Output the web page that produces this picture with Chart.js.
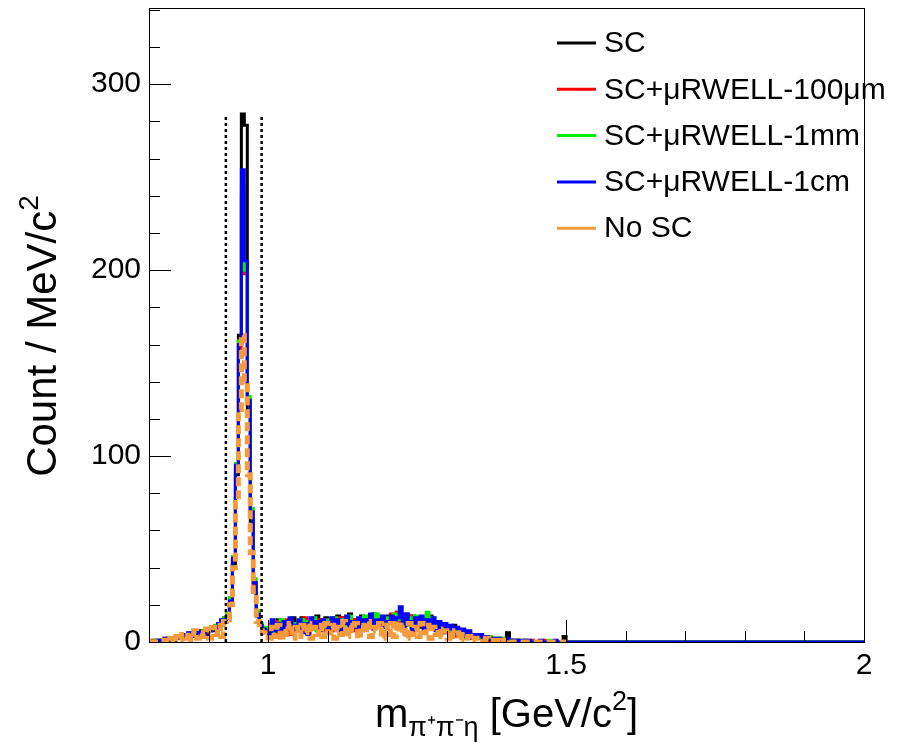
<!DOCTYPE html>
<html>
<head>
<meta charset="utf-8">
<title>m(pi+ pi- eta)</title>
<script src="https://cdn.jsdelivr.net/npm/chart.js@4/dist/chart.umd.min.js"></script>
<style>
  body { margin: 0; background: #fff; }
  #box { width: 914px; height: 743px; }
</style>
</head>
<body>
<div id="box"><canvas id="myChart" width="914" height="743"></canvas></div>
<script>
// histogram: 5 MeV bins starting at 0.800 GeV (bin low edges), up to 1.500 GeV
const binStart = 0.8;
const binWidth = 0.005;
const histEnd = 2.0;

const seriesNames = ['SC', 'SC+\u03BCRWELL-100\u03BCm', 'SC+\u03BCRWELL-1mm', 'SC+\u03BCRWELL-1cm', 'No SC'];

const countsSC = [
  0,0,1,0,1,1,2,1,1,2,
  3,2,4,3,5,4,3,6,5,4,
  7,6,8,9,11,13,15,22,42,90,
  165,284,278,125,65,30,14,9,6,7,
  6,10,4,12,7,9,11,5,13,8,
  9,13,6,11,8,12,14,7,10,13,
  11,7,12,14,9,13,8,15,10,12,
  8,14,11,13,9,15,10,12,13,9,
  14,10,13,16,11,12,15,9,14,11,
  13,8,12,10,14,9,11,7,10,6,
  8,5,9,4,6,3,5,2,4,2,
  2,3,3,2,1,2,2,1,1,0,
  5,1,0,1,0,0,1,0,0,0,
  0,0,0,0,0,0,0,0,0,3
];
const counts100um = [
  0,1,0,0,1,2,1,1,2,2,
  3,3,4,4,4,5,4,5,6,5,
  6,7,8,9,10,12,14,22,44,92,
  158,240,198,128,68,31,15,9,7,6,
  5,9,3,11,6,8,12,4,10,7,
  11,6,13,5,10,7,9,12,6,11,
  8,12,6,10,13,7,11,9,12,6,
  10,13,7,12,14,8,11,13,9,12,
  10,15,12,16,9,13,11,14,8,12,
  9,13,8,11,12,7,10,8,9,5,
  7,4,8,3,6,4,2,5,3,2,
  3,2,3,2,2,1,1,1,2,1,
  1,0,1,1,0,0,0,0,1,0,
  0,0,1,0,0,0,0,0,0,0
];
const counts1mm = [
  0,0,1,1,0,1,2,1,2,3,
  2,4,3,5,4,3,5,6,5,6,
  7,7,9,8,11,13,16,24,46,96,
  162,245,200,132,72,34,17,10,7,8,
  7,4,10,8,12,5,9,11,6,10,
  8,12,5,11,9,13,6,10,8,12,
  9,11,13,7,12,8,10,14,9,11,
  12,8,14,10,13,9,15,11,12,8,
  13,10,15,12,14,11,9,13,11,14,
  10,12,9,16,11,13,8,10,6,9,
  6,8,4,7,3,5,2,4,3,2,
  2,3,2,2,3,2,1,2,1,2,
  1,1,0,1,0,1,0,0,0,0,
  0,0,0,0,1,0,0,0,0,0
];
const counts1cm = [
  0,0,0,1,1,2,0,1,2,3,
  2,4,3,5,3,4,6,5,4,7,
  6,8,7,10,12,12,14,22,45,95,
  160,254,205,130,70,32,15,9,7,6,
  4,12,6,10,3,11,7,13,5,9,
  12,5,10,4,13,8,11,6,12,9,
  5,13,9,12,6,10,14,7,11,8,
  13,6,12,9,15,7,12,10,14,8,
  11,14,9,13,19,8,15,11,6,13,
  10,14,7,12,9,13,6,11,5,10,
  7,9,4,8,5,7,3,6,2,4,
  3,4,2,3,2,2,1,2,1,1,
  2,1,1,0,1,1,0,1,0,0,
  0,1,0,0,0,0,1,0,0,0
];
const countsNoSC = [
  0,0,0,0,0,1,0,2,0,3,
  1,4,2,5,1,6,2,5,3,7,
  2,8,4,9,3,11,12,20,40,75,
  125,165,140,90,48,24,11,6,5,4,
  2,8,3,9,1,7,4,10,2,8,
  3,9,5,10,2,8,4,9,3,10,
  5,9,2,8,4,11,3,9,6,10,
  2,9,5,11,3,8,6,10,2,9,
  4,10,3,11,5,9,2,10,4,8,
  3,10,5,9,2,8,4,7,3,6,
  2,6,3,5,1,4,2,3,1,2,
  2,2,1,2,1,1,1,0,1,0,
  1,0,0,0,0,0,0,0,0,0,
  0,0,0,0,0,0,0,0,0,0
];

// signal window (dotted lines)
const windowLow = 0.929;
const windowHigh = 0.989;
const windowTop = 283;

const xLabelTicks = [1, 1.5, 2];
const yLabelTicks = [0, 100, 200, 300];
const yMax = 341;

const colors = ['#000000', '#ff0000', '#00ee00', '#0000ff', '#f59b3c'];
const allCounts = [countsSC, counts100um, counts1mm, counts1cm, countsNoSC];

function toSteps(counts, withTail){
  const pts = counts.map((c, i) => ({x: binStart + i*binWidth, y: c}));
  pts.push({x: binStart + counts.length*binWidth, y: 0});
  if (withTail) pts.push({x: histEnd, y: 0});
  return pts;
}

const FONT = '"Liberation Sans", Arial, Helvetica, sans-serif';

var datasets = allCounts.map((counts, k) => ({
  label: seriesNames[k],
  data: toSteps(counts, k !== 4),
  borderColor: colors[k],
  borderWidth: k === 4 ? 5 : 3,
  borderDash: k === 4 ? [9, 4] : [],
  stepped: true,
  pointRadius: 0,
  fill: false,
  order: 5 - k
}));
[windowLow, windowHigh].forEach(function(v){
  datasets.push({
    label: 'window',
    data: [{x: v, y: 0}, {x: v, y: windowTop}],
    borderColor: '#000',
    borderWidth: 2.5,
    borderDash: [3, 3],
    pointRadius: 0,
    fill: false,
    order: 0
  });
});

// frame, inner ticks, legend and axis titles (ROOT look)
const rootStyle = {
  id: 'rootStyle',
  afterDatasetsDraw(chart){
    const ctx = chart.ctx, a = chart.chartArea;
    const xs = chart.scales.x, ys = chart.scales.y;
    ctx.save();
    ctx.strokeStyle = '#000';
    ctx.lineWidth = 1;
    ctx.setLineDash([]);
    ctx.strokeRect(a.left + 0.5, a.top + 0.5, a.right - a.left, a.bottom - a.top);
    ctx.beginPath();
    for (let v = 0; v <= 340; v += 20){
      const py = Math.round(ys.getPixelForValue(v)) + 0.5;
      const len = v % 100 === 0 ? 22 : 11;
      ctx.moveTo(a.left, py); ctx.lineTo(a.left + len, py);
    }
    for (let k = 8; k <= 20; k++){
      const px = Math.round(xs.getPixelForValue(k/10)) + 0.5;
      const len = k % 5 === 0 ? 22 : 11;
      ctx.moveTo(px, a.bottom); ctx.lineTo(px, a.bottom - len);
    }
    ctx.stroke();
    ctx.restore();
  },
  afterDraw(chart){
    const ctx = chart.ctx, a = chart.chartArea;
    ctx.save();
    ctx.fillStyle = '#000';
    // legend
    ctx.font = '30px ' + FONT;
    ctx.textBaseline = 'middle';
    ctx.textAlign = 'left';
    seriesNames.forEach(function(name, k){
      const cy = 43 + k*46.3;
      ctx.strokeStyle = colors[k];
      ctx.lineWidth = 3;
      ctx.beginPath(); ctx.moveTo(557, cy); ctx.lineTo(596, cy); ctx.stroke();
      ctx.fillText(name, 604, cy + 1);
    });
    // x title: m_{pi+ pi- eta} [GeV/c^2]
    ctx.textBaseline = 'alphabetic';
    const big = '40px ' + FONT, small = '27px ' + FONT;
    const parts = [
      {t: 'm', f: big, dy: 0},
      {t: '\u03C0\u207A\u03C0\u207B\u03B7', f: small, dy: 9},
      {t: ' [GeV/c', f: big, dy: 0},
      {t: '2', f: small, dy: -17},
      {t: ']', f: big, dy: 0}
    ];
    let total = 0;
    parts.forEach(p => { ctx.font = p.f; p.w = ctx.measureText(p.t).width; total += p.w; });
    let px = (a.left + a.right)/2 - total/2;
    const base = 727;
    parts.forEach(p => { ctx.font = p.f; ctx.fillText(p.t, px, base + p.dy); px += p.w; });
    // y title: Count / MeV/c^2
    ctx.translate(56, 336);
    ctx.rotate(-Math.PI/2);
    const yparts = [
      {t: 'Count / MeV/c', f: '42px ' + FONT, dy: 0},
      {t: '2', f: '28px ' + FONT, dy: -18}
    ];
    total = 0;
    yparts.forEach(p => { ctx.font = p.f; p.w = ctx.measureText(p.t).width; total += p.w; });
    px = -total/2;
    yparts.forEach(p => { ctx.font = p.f; ctx.fillText(p.t, px, p.dy); px += p.w; });
    ctx.restore();
  }
};

var ctx = document.getElementById('myChart').getContext('2d');
var myChart = new Chart(ctx, {
  type: 'line',
  data: { datasets: datasets },
  options: {
    responsive: false,
    animation: false,
    devicePixelRatio: 1,
    layout: { padding: { top: 8, right: 50, left: 0, bottom: 0 } },
    plugins: { legend: { display: false }, tooltip: { enabled: false } },
    scales: {
      x: {
        type: 'linear',
        min: binStart,
        max: histEnd,
        grid: { display: false, drawTicks: false },
        border: { display: false },
        ticks: {
          color: '#000',
          font: { family: FONT, size: 30 },
          padding: 6,
          maxRotation: 0,
          autoSkip: false,
          callback: function(v){ return String(v); }
        },
        afterBuildTicks: function(ax){ ax.ticks = xLabelTicks.map(v => ({value: v})); },
        afterFit: function(ax){ ax.height = 101; ax.paddingLeft = 0; ax.paddingRight = 0; }
      },
      y: {
        type: 'linear',
        min: 0,
        max: yMax,
        grid: { display: false, drawTicks: false },
        border: { display: false },
        ticks: {
          color: '#000',
          font: { family: FONT, size: 30 },
          padding: 8,
          callback: function(v){ return String(v); }
        },
        afterBuildTicks: function(ax){ ax.ticks = yLabelTicks.map(v => ({value: v})); },
        afterFit: function(ax){ ax.width = 149; ax.paddingTop = 0; ax.paddingBottom = 0; }
      }
    }
  },
  plugins: [rootStyle]
});
</script>
</body>
</html>
